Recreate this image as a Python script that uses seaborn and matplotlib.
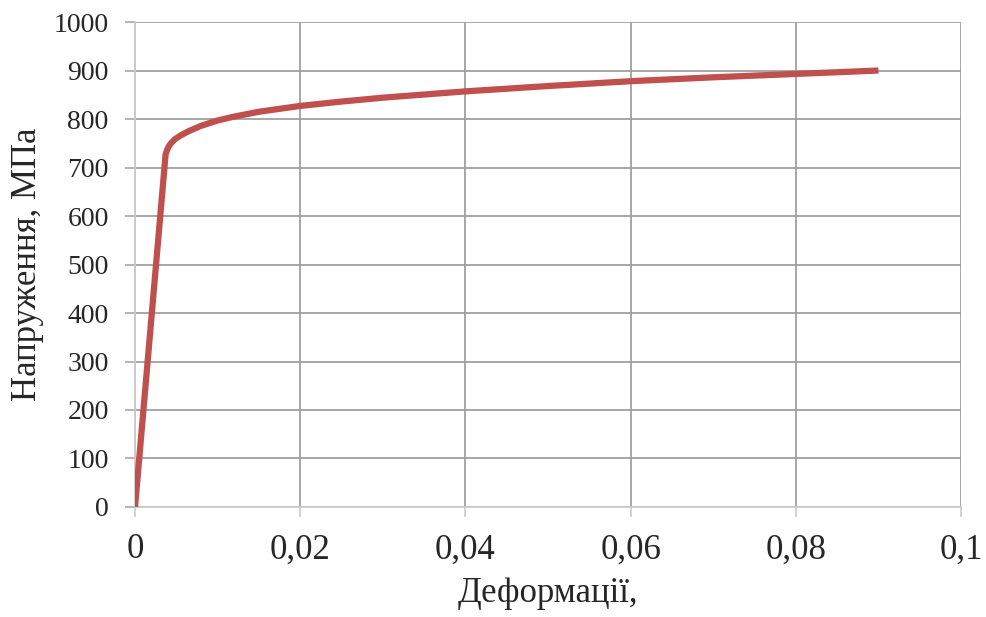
import matplotlib.pyplot as plt
import seaborn as sns
import pandas as pd
from matplotlib.ticker import FuncFormatter, MultipleLocator

# strain / stress values
strain = [0.0, 0.0037, 0.0039, 0.0041, 0.0044, 0.0048, 0.0055, 0.0065, 0.008,
          0.010, 0.012, 0.015, 0.020, 0.025, 0.030, 0.040, 0.050, 0.060,
          0.070, 0.080, 0.090]
stress = [0, 727, 737, 744, 751, 758, 766, 775, 786,
          797, 805, 815, 827, 836, 844, 857, 868, 878,
          886, 893, 900]

x_label = "Деформації,"
y_label = "Напруження, МПа"

df = pd.DataFrame({"strain": strain, "stress": stress})

sns.set_style("white")
plt.rcParams['font.family'] = ['Liberation Serif', 'DejaVu Serif']

fig = plt.figure(figsize=(9.87, 6.17), dpi=100)
ax = fig.add_axes([0.1368, 0.1783, 0.9737 - 0.1368, 0.9643 - 0.1783])

sns.lineplot(data=df, x="strain", y="stress", ax=ax, color="#C0504D",
             linewidth=4.5, solid_capstyle="butt", solid_joinstyle="round", zorder=3)

ax.set_xlim(0, 0.1)
ax.set_ylim(0, 1000)
ax.xaxis.set_major_locator(MultipleLocator(0.02))
ax.yaxis.set_major_locator(MultipleLocator(100))
ax.xaxis.set_major_formatter(FuncFormatter(lambda v, p: ("%g" % round(v, 4)).replace(".", ",")))

ax.grid(True, color="#a0a0a0", linewidth=1.3, zorder=0)
ax.set_axisbelow(True)
for s in ["top", "right"]:
    ax.spines[s].set_visible(False)
for s in ["left", "bottom"]:
    ax.spines[s].set_color("#cccccc")
    ax.spines[s].set_linewidth(1.3)

ax.tick_params(axis="y", direction="out", length=7, width=1.2, color="#a8a8a8",
               labelsize=20, pad=12, left=True)
ax.tick_params(axis="x", direction="out", length=7, width=1.2, color="#cccccc",
               labelsize=25, pad=12, bottom=True)

ax.set_xlabel(x_label, fontsize=25, labelpad=8)
ax.set_ylabel(y_label, fontsize=25, labelpad=7)

fig.savefig("out.png", dpi=100)
